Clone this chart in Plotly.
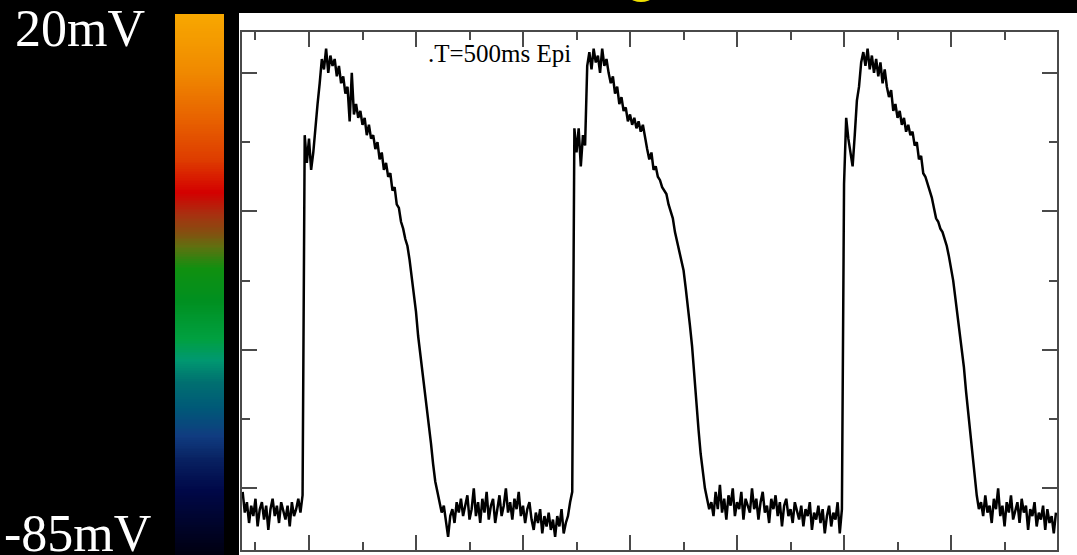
import numpy as np
import plotly.graph_objects as go

W, H = 1077, 555

t0_ms = -124
dt_ms = 4

v_base0 = [-81, -87, -84, -90, -85, -88, -83, -91, -86, -84,
           -89, -85, -92, -86, -83, -88, -85, -90, -84, -87,
           -89, -85, -91, -84, -88, -86, -83, -87, -82]

v_beat1 = [22, 14, 21, 12, 17, 25, 31, 37, 44, 41,
           47, 40, 45, 42, 44, 39, 42, 37, 39, 34,
           36, 26, 40, 28, 31, 27, 29, 25, 27, 22,
           25, 21, 22, 18, 20, 15, 17, 12, 14, 10,
           11, 6, 7, 2, 1, -3, -5, -8, -10, -14,
           -19, -24, -29, -36, -41, -46, -52, -57, -62, -67,
           -73, -78, -81, -84]

v_base1 = [-87, -85, -89, -94, -88, -86, -90, -84, -87, -83,
           -88, -85, -82, -89, -86, -80, -88, -84, -90, -83,
           -87, -81, -89, -85, -83, -90, -86, -82, -88, -85,
           -80, -87, -84, -89, -83, -86, -81, -88, -85, -90,
           -86, -84, -89, -92, -87, -90, -86, -93, -88, -91,
           -87, -92, -89, -94, -88, -91, -86, -93, -90, -88,
           -84, -81]

v_beat2 = [24, 17, 24, 13, 22, 19, 42, 46, 41, 47,
           43, 45, 40, 47, 42, 44, 40, 37, 39, 34,
           36, 31, 33, 29, 30, 26, 28, 25, 27, 24,
           26, 23, 25, 21, 18, 15, 17, 12, 13, 10,
           9, 7, 6, 5, 2, 0, -2, -6, -9, -12,
           -14, -17, -22, -27, -33, -39, -48, -56, -63, -70,
           -76, -80, -83, -86]

v_base2 = [-84, -88, -81, -86, -79, -87, -83, -89, -82, -85,
           -80, -88, -84, -86, -81, -89, -83, -85, -87, -80,
           -86, -83, -89, -84, -81, -87, -85, -90, -83, -86,
           -82, -88, -84, -91, -85, -83, -88, -86, -90, -84,
           -87, -89, -85, -91, -86, -88, -84, -92, -87, -89,
           -85, -90, -86, -93, -88, -85, -91, -87, -89, -84,
           -93, -86]

v_beat3 = [8, 27, 21, 17, 13, 22, 32, 36, 43, 46,
           42, 47, 41, 45, 40, 44, 39, 43, 37, 41,
           36, 33, 35, 29, 31, 27, 29, 25, 27, 23,
           25, 22, 23, 19, 20, 15, 16, 11, 10, 8,
           6, 4, 1, -2, -3, -5, -6, -8, -10, -13,
           -16, -20, -25, -30, -35, -39, -45, -52, -58, -64,
           -70, -77, -82, -86]

v_base3 = [-84, -88, -82, -87, -85, -90, -83, -86, -80, -88,
           -85, -91, -84, -87, -82, -89, -86, -84, -90, -83,
           -87, -85, -92, -86, -88, -84, -91, -87, -89, -85,
           -92, -86, -90, -88, -93, -87]

segments = [v_base0, v_beat1, v_base1, v_beat2, v_base2, v_beat3, v_base3]
voltage = [v for seg in segments for v in seg]
time_ms = [t0_ms + dt_ms * i for i in range(len(voltage))]

# colour scale bar
cbar_min_mv, cbar_max_mv = -85, 20
cbar_label_top = "20mV"
cbar_label_bottom = "-85mV"
panel_label = ".T=500ms Epi"

colorscale = [
    [0.00, "#000010"], [0.12, "#000848"], [0.175, "#082060"], [0.22, "#103c80"],
    [0.27, "#005878"], [0.32, "#007070"], [0.36, "#009870"], [0.40, "#00a040"],
    [0.47, "#009020"], [0.53, "#109010"], [0.57, "#607010"], [0.60, "#8a4a10"],
    [0.63, "#a83010"], [0.67, "#d40000"], [0.73, "#de3c00"], [0.81, "#e86400"],
    [0.895, "#f08a00"], [1.00, "#f8a800"],
]

levels = np.linspace(cbar_min_mv, cbar_max_mv, 300)

fig = go.Figure()
fig.add_trace(go.Scatter(x=time_ms, y=voltage, mode="lines",
                         line=dict(color="black", width=2.5), showlegend=False,
                         hoverinfo="skip"))
fig.add_trace(go.Heatmap(z=[[lv] for lv in levels], y=levels, x=[0],
                         colorscale=colorscale, zmin=cbar_min_mv, zmax=cbar_max_mv,
                         showscale=False, xaxis="x2", yaxis="y2", hoverinfo="skip"))

axcol = "#4a4a4a"
common = dict(showgrid=False, zeroline=False, showline=True, linecolor=axcol,
              linewidth=2, mirror="ticks", ticks="inside", ticklen=15,
              tickwidth=1.5, tickcolor=axcol, showticklabels=False)

fig.update_layout(
    width=W, height=H,
    margin=dict(l=0, r=0, t=0, b=0),
    paper_bgcolor="black", plot_bgcolor="white",
    xaxis=dict(domain=[242 / W, 1057 / W], range=[-125.2, 1398], tick0=0, dtick=200,
               minor=dict(ticks="inside", ticklen=8, tick0=0, dtick=100,
                          tickcolor=axcol, tickwidth=1.5), **common),
    yaxis=dict(domain=[1 - 550 / H, 1 - 32 / H], range=[-97.8, 51.8], tick0=0, dtick=40,
               minor=dict(ticks="inside", ticklen=8, tick0=0, dtick=20,
                          tickcolor=axcol, tickwidth=1.5), **common),
    xaxis2=dict(domain=[175 / W, 224 / W], anchor="y2", visible=False),
    yaxis2=dict(domain=[0, 1 - 14 / H], anchor="x2", range=[cbar_min_mv, cbar_max_mv],
                visible=False),
    shapes=[
        dict(type="rect", xref="paper", yref="paper", x0=239 / W, x1=1,
             y0=0, y1=1 - 13 / H, fillcolor="white", line=dict(width=0), layer="below"),
        dict(type="circle", xref="paper", yref="paper", x0=631 / W, x1=651 / W,
             y0=1 - 2 / H, y1=1 + 6 / H, fillcolor="#f0e000", line=dict(width=0)),
    ],
    annotations=[
        dict(text=cbar_label_top, x=13 / W, y=1 + 2 / H, xref="paper", yref="paper",
             xanchor="left", yanchor="top", showarrow=False,
             font=dict(family="Liberation Serif", size=52, color="white")),
        dict(text=cbar_label_bottom, x=2 / W, y=1 - 503 / H, xref="paper", yref="paper",
             xanchor="left", yanchor="top", showarrow=False,
             font=dict(family="Liberation Serif", size=52, color="white")),
        dict(text=panel_label, x=426 / W, y=1 - 38 / H, xref="paper", yref="paper",
             xanchor="left", yanchor="top", showarrow=False,
             font=dict(family="Liberation Serif", size=25, color="black")),
    ],
)

fig.write_html("out.html",
               config={"displayModeBar": False},
               post_script="document.body.style.margin='0';document.body.style.overflow='hidden';document.body.style.background='black';")
